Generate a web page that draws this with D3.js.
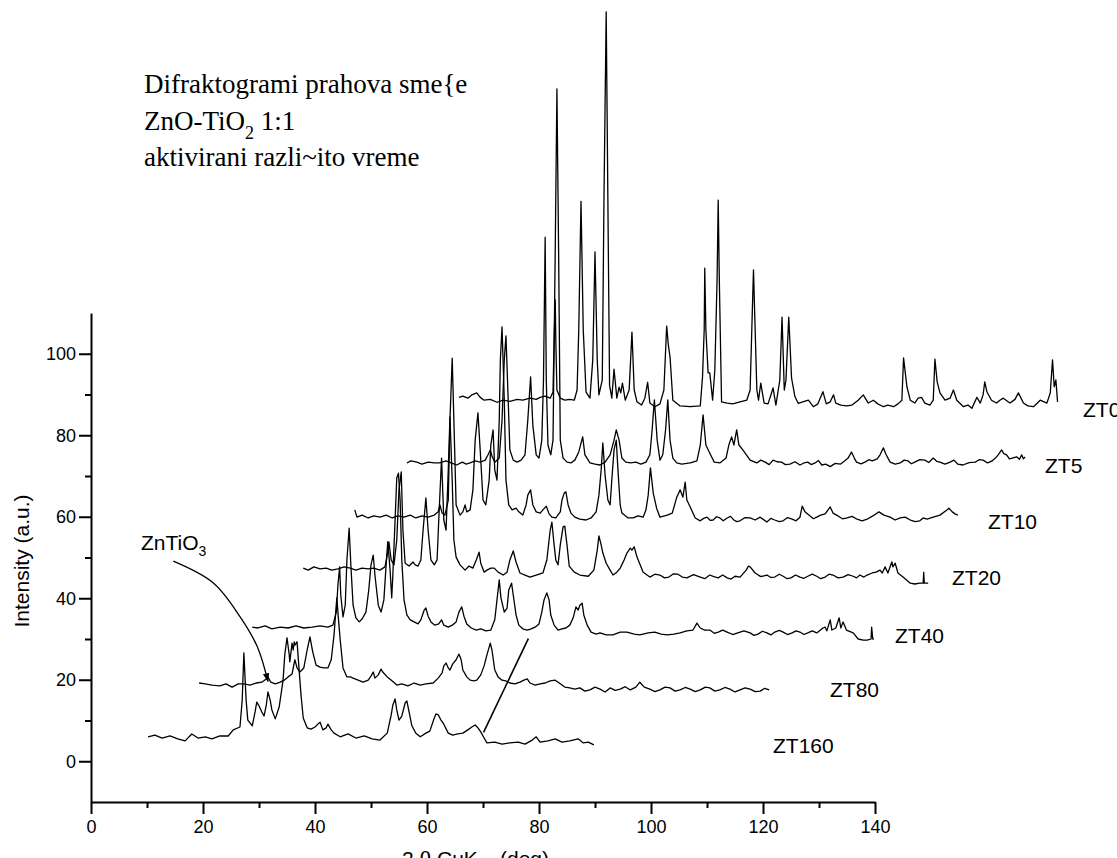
<!DOCTYPE html>
<html><head><meta charset="utf-8">
<script src="https://cdn.jsdelivr.net/npm/d3@7/dist/d3.min.js"></script>
<style>body{margin:0;background:#fff}svg{display:block}</style>
</head><body>
<svg id="chart" width="1117" height="858"></svg>
<script>
// ---------- data (plotted axis units) ----------
const seriesNames = ["ZT160","ZT80","ZT40","ZT20","ZT10","ZT5","ZT0"];

const zt160 = [[10.2,6.0],[11.4,6.4],[12.7,5.7],[14.1,6.2],[15.5,5.5],[16.8,5.0],[18.0,6.7],[19.1,5.7],[20.4,6.0],[21.6,5.5],[23.0,6.2],[24.5,6.2],[25.4,7.7],[26.6,8.4],[27.0,15.0],[27.3,26.6],[27.7,15.0],[28.0,10.1],[28.8,8.7],[29.3,12.1],[29.6,14.5],[30.0,13.6],[30.5,12.1],[30.9,11.1],[31.3,13.8],[31.6,17.0],[32.0,15.0],[32.3,12.6],[32.9,10.4],[33.6,13.3],[34.3,19.9],[34.6,26.1],[35.0,30.3],[35.4,26.1],[35.5,24.4],[35.9,29.0],[36.1,27.3],[36.3,29.3],[36.4,28.5],[36.8,29.3],[37.1,23.6],[37.5,16.3],[37.9,10.6],[38.6,8.2],[39.3,7.9],[40.0,8.4],[40.5,9.1],[40.9,9.6],[41.4,7.7],[42.0,8.2],[42.3,9.1],[42.9,7.7],[43.4,6.9],[44.5,6.0],[45.9,6.7],[47.3,5.7],[48.8,6.2],[50.2,5.5],[51.6,5.2],[52.9,6.9],[53.6,11.3],[53.9,13.8],[54.3,15.3],[54.6,12.6],[55.0,10.1],[55.5,11.1],[56.1,14.3],[56.4,14.8],[56.8,12.1],[57.3,8.7],[58.0,6.9],[58.8,6.0],[59.8,6.9],[60.5,7.4],[61.3,10.6],[61.6,11.6],[62.0,11.4],[62.5,10.1],[63.0,9.1],[63.8,6.9],[64.6,6.4],[65.5,6.7],[66.4,6.9],[67.3,7.7],[68.0,8.4],[68.6,8.9],[69.1,8.2],[69.6,7.2],[70.2,5.7],[70.7,4.5],[72.1,4.7],[73.4,4.2],[74.8,4.5],[76.3,4.7],[77.5,4.2],[78.8,5.2],[79.5,6.0],[80.2,4.7],[81.6,5.0],[82.9,5.5],[84.1,4.7],[85.5,5.0],[87.0,5.5],[87.9,4.5],[88.8,4.7],[89.8,4.0]];

const zt80 = [[19.3,19.2],[20.4,19.0],[21.6,18.7],[23.0,18.5],[24.1,19.0],[25.2,18.2],[26.3,19.0],[27.3,19.0],[28.4,18.7],[29.5,19.2],[30.5,19.4],[31.3,20.2],[31.6,20.7],[32.1,19.4],[32.9,19.0],[33.8,19.4],[34.5,19.9],[35.2,20.7],[35.9,21.4],[36.4,24.9],[36.8,22.9],[37.3,21.9],[38.0,22.9],[38.6,27.3],[39.1,30.5],[39.6,26.8],[40.2,23.6],[40.9,23.1],[41.6,22.9],[42.3,22.9],[42.9,24.9],[43.4,31.0],[43.8,38.4],[43.9,40.1],[44.2,34.7],[44.5,29.8],[45.0,22.9],[45.7,20.7],[46.3,20.7],[46.8,20.4],[47.7,19.9],[48.6,19.4],[49.5,19.9],[50.0,20.9],[50.4,21.9],[50.7,20.4],[51.3,21.2],[51.8,22.6],[52.1,21.9],[52.9,20.7],[53.8,19.7],[54.6,18.7],[55.5,19.0],[56.6,18.5],[57.7,19.2],[58.8,18.7],[59.8,19.0],[61.1,19.2],[62.0,20.4],[62.7,21.7],[63.0,23.4],[63.4,24.1],[63.8,22.9],[64.1,22.4],[64.6,23.9],[65.2,24.9],[65.7,26.3],[66.1,24.9],[66.4,22.4],[67.1,20.7],[67.7,19.9],[68.4,19.7],[68.9,19.9],[69.6,21.2],[70.2,23.4],[70.7,26.1],[71.3,29.0],[71.6,27.3],[72.1,22.4],[72.7,20.7],[73.4,19.9],[74.1,19.7],[74.8,19.2],[75.7,19.0],[76.6,19.4],[77.3,19.9],[77.9,20.2],[78.4,19.2],[79.3,18.7],[80.2,19.0],[81.1,19.2],[82.0,19.7],[82.9,19.9],[83.8,19.0],[84.6,18.2],[85.5,18.0],[86.4,17.7],[87.3,18.0],[88.2,17.2],[89.1,17.5],[90.0,18.2],[90.9,17.7],[91.8,17.0],[92.7,18.0],[93.6,17.4],[94.5,17.7],[95.4,18.3],[96.3,17.5],[97.3,18.2],[98.0,19.4],[98.8,18.2],[99.8,17.7],[100.7,17.1],[101.6,17.5],[102.5,18.2],[103.4,18.0],[104.3,17.2],[105.2,17.5],[106.1,18.1],[107.0,17.7],[107.9,17.1],[108.8,17.5],[109.7,18.2],[110.5,18.0],[111.4,17.2],[112.3,17.5],[113.2,18.1],[114.1,17.7],[115.0,17.0],[115.9,17.5],[116.8,18.0],[117.7,17.7],[118.6,17.1],[119.5,17.2],[120.3,17.9],[121.1,17.5]];

const zt40 = [[28.8,32.9],[29.8,32.7],[31.1,33.2],[32.3,32.5],[33.8,32.9],[35.2,32.7],[36.6,33.2],[38.0,32.7],[39.5,32.9],[40.9,33.2],[42.3,32.9],[43.2,33.4],[43.8,36.6],[44.1,43.3],[44.4,47.7],[44.6,40.8],[45.0,35.4],[45.4,38.3],[45.7,49.4],[46.1,57.2],[46.4,48.2],[46.8,38.3],[47.3,35.2],[47.9,34.2],[48.4,34.9],[49.1,36.6],[49.6,42.0],[50.0,48.2],[50.4,50.6],[50.7,45.7],[51.3,38.3],[51.8,36.6],[52.3,39.6],[52.7,48.2],[53.0,53.9],[53.4,47.1],[53.7,40.1],[53.9,45.7],[54.3,59.2],[54.6,69.5],[54.9,70.7],[55.2,64.1],[55.5,49.4],[55.9,39.6],[56.4,35.9],[57.0,34.7],[57.7,34.2],[58.4,33.7],[58.9,34.7],[59.5,37.1],[59.8,37.6],[60.2,35.6],[60.7,34.2],[61.4,33.4],[62.1,33.7],[62.6,34.7],[63.0,33.4],[63.8,32.9],[64.5,33.4],[65.2,34.2],[65.7,36.6],[66.2,37.9],[66.6,35.6],[67.1,33.7],[67.9,32.7],[68.8,32.2],[69.6,32.5],[70.5,32.0],[71.4,32.2],[72.1,34.7],[72.5,39.6],[72.9,44.5],[73.2,40.1],[73.8,36.6],[74.3,37.6],[74.6,42.0],[75.1,43.7],[75.4,40.8],[75.9,35.9],[76.4,33.4],[77.1,32.5],[77.9,32.2],[78.6,32.5],[79.3,32.9],[80.0,33.7],[80.5,36.6],[80.9,39.6],[81.4,41.3],[81.8,39.6],[82.1,35.9],[82.7,33.4],[83.4,32.2],[84.1,32.5],[84.8,32.7],[85.5,33.4],[86.1,35.2],[86.6,37.9],[87.0,37.1],[87.3,38.3],[87.7,38.8],[88.0,35.9],[88.6,33.4],[89.3,31.7],[90.2,31.2],[90.9,31.5],[92.0,31.0],[93.2,31.0],[94.5,31.7],[95.7,31.7],[97.0,31.2],[98.0,31.0],[99.5,31.5],[100.7,31.7],[101.8,31.2],[102.9,31.0],[104.1,31.2],[105.2,31.5],[106.4,32.0],[107.5,32.2],[108.2,33.9],[108.8,32.7],[109.6,32.2],[110.5,32.2],[111.3,31.4],[112.0,31.7],[112.8,32.2],[113.6,31.7],[114.6,31.1],[115.5,31.5],[116.6,32.0],[117.7,31.5],[118.4,30.9],[119.1,31.2],[119.9,31.9],[120.7,31.5],[121.4,31.0],[122.1,31.7],[122.9,32.1],[123.6,31.7],[124.4,31.1],[125.2,31.5],[125.9,32.0],[126.6,31.7],[127.3,31.1],[128.0,31.5],[128.8,32.0],[129.6,31.5],[130.7,32.7],[131.1,32.9],[131.4,32.0],[132.0,34.7],[132.3,32.2],[133.0,32.7],[133.6,35.2],[133.9,32.7],[134.3,34.2],[134.9,32.2],[136.1,31.5],[137.0,30.0],[137.9,29.7],[138.6,29.7],[139.3,30.0],[139.4,32.9],[139.6,30.0],[139.8,30.0]];

const zt20 = [[37.9,47.4],[38.8,46.9],[39.8,47.7],[40.9,47.2],[42.0,47.4],[43.0,46.9],[44.1,47.2],[45.2,47.7],[46.3,47.4],[47.3,46.9],[48.4,47.4],[49.5,47.2],[50.5,47.4],[51.6,46.9],[52.5,47.7],[52.9,50.6],[53.2,53.8],[53.6,49.4],[54.1,48.2],[54.6,54.3],[55.0,66.6],[55.4,71.0],[55.7,56.7],[56.1,48.6],[56.8,47.9],[57.5,48.9],[57.9,48.2],[58.4,47.9],[58.9,49.4],[59.3,56.7],[59.8,64.6],[60.2,56.7],[60.7,49.4],[61.3,48.2],[61.8,49.4],[62.1,59.2],[62.6,74.4],[63.0,59.2],[63.4,56.7],[63.8,71.5],[64.1,84.5],[64.5,69.0],[64.8,54.3],[65.2,50.1],[65.9,48.2],[66.8,46.9],[67.5,47.9],[68.2,47.4],[68.8,49.4],[69.3,51.3],[69.6,48.6],[70.2,46.4],[70.7,46.9],[71.4,47.4],[72.0,47.4],[72.7,46.4],[73.6,45.7],[74.3,46.4],[74.8,49.4],[75.4,51.6],[75.9,48.9],[76.6,46.2],[77.5,45.7],[78.4,45.2],[79.5,45.7],[80.7,46.2],[81.4,49.4],[82.0,56.7],[82.3,58.7],[82.7,53.1],[83.0,49.4],[83.4,48.2],[83.8,53.1],[84.3,57.5],[84.6,57.7],[85.0,53.1],[85.4,47.9],[86.3,46.4],[87.3,45.7],[88.8,45.4],[89.8,46.9],[90.4,51.8],[90.7,55.3],[91.1,53.1],[91.4,51.1],[92.0,48.6],[92.7,46.9],[93.2,45.7],[93.9,46.4],[94.5,47.4],[95.2,49.4],[95.7,51.1],[96.3,52.3],[96.6,51.8],[97.0,52.6],[97.5,50.1],[98.6,46.4],[99.8,45.2],[100.7,45.9],[101.6,45.7],[102.4,45.0],[103.2,45.2],[104.0,46.0],[104.8,45.9],[105.6,45.2],[106.4,45.0],[107.6,45.8],[108.8,45.2],[109.6,44.8],[110.5,45.7],[111.2,45.3],[112.0,45.0],[112.8,45.7],[113.6,45.0],[114.3,44.7],[115.0,45.4],[115.9,45.2],[117.0,46.9],[117.4,47.9],[117.7,47.7],[118.6,46.2],[119.6,45.3],[120.7,45.7],[121.4,45.1],[122.1,45.2],[122.9,45.9],[123.6,45.4],[124.3,44.8],[125.0,45.0],[125.8,45.7],[126.6,45.2],[127.3,44.9],[128.0,45.4],[128.8,45.9],[129.6,45.4],[130.3,44.8],[131.1,45.2],[131.8,45.9],[132.5,45.7],[133.4,45.0],[134.3,45.2],[135.2,45.8],[136.1,45.4],[136.7,45.0],[137.3,45.7],[138.0,45.2],[138.6,45.7],[139.5,46.2],[140.2,46.4],[140.9,46.9],[141.3,46.2],[141.8,47.7],[142.3,46.2],[143.0,48.9],[143.2,47.7],[143.6,48.6],[144.1,46.2],[145.0,45.2],[146.3,43.7],[147.1,43.5],[148.0,43.7],[148.6,43.7],[148.7,46.4],[148.8,43.7],[149.5,43.7]];

const zt10 = [[47.1,61.7],[47.5,59.9],[48.4,60.4],[49.5,59.7],[50.5,60.2],[51.6,59.9],[52.7,60.4],[53.8,59.7],[54.8,60.2],[55.9,59.9],[57.0,60.4],[58.0,59.7],[59.1,60.2],[60.2,59.9],[61.3,60.4],[62.0,61.2],[62.3,62.9],[62.7,60.9],[63.2,60.4],[63.8,64.1],[64.1,83.7],[64.5,98.9],[64.8,83.7],[65.2,62.9],[65.9,60.4],[66.4,61.2],[66.8,62.9],[67.1,61.2],[67.7,61.7],[68.2,66.6],[68.6,78.8],[69.1,85.5],[69.5,76.4],[70.0,64.1],[70.5,62.9],[71.1,69.0],[71.4,77.6],[71.8,81.3],[72.1,71.5],[72.5,69.0],[72.9,83.7],[73.1,98.5],[73.4,106.6],[73.8,88.6],[74.1,69.0],[74.6,62.9],[75.2,61.7],[75.9,62.1],[76.4,61.2],[77.1,60.4],[77.7,62.9],[78.0,65.3],[78.5,66.6],[78.9,62.9],[79.5,61.2],[80.2,60.9],[80.7,61.7],[81.3,62.6],[81.8,60.7],[82.3,59.9],[83.0,59.7],[83.8,61.2],[84.1,64.1],[84.5,65.8],[84.8,66.1],[85.2,62.9],[85.7,60.9],[86.4,59.9],[87.3,59.4],[88.4,59.2],[89.3,59.7],[90.2,61.2],[90.7,65.3],[91.1,71.5],[91.4,78.1],[91.8,70.2],[92.3,64.1],[92.7,62.9],[93.0,69.0],[93.4,76.4],[93.8,78.8],[94.1,71.5],[94.5,62.9],[94.8,60.9],[95.9,59.7],[96.8,59.7],[97.7,60.2],[98.6,59.9],[99.1,61.7],[99.5,65.3],[99.9,72.0],[100.4,65.8],[101.0,62.1],[101.6,59.9],[102.9,60.4],[103.8,60.9],[104.6,64.8],[105.2,66.6],[105.7,64.8],[106.1,68.5],[106.4,64.1],[107.0,62.4],[107.9,59.7],[108.8,59.0],[109.4,59.6],[110.0,59.9],[110.6,59.1],[111.1,59.2],[111.7,60.0],[112.3,59.7],[112.9,59.0],[113.6,59.7],[114.2,60.1],[114.8,59.2],[115.3,58.8],[115.9,59.0],[116.8,59.8],[117.7,59.7],[118.6,59.2],[119.5,59.9],[120.1,59.3],[120.7,58.7],[121.4,59.6],[122.1,59.2],[122.9,58.8],[123.6,59.0],[124.4,59.8],[125.2,59.4],[125.9,59.0],[126.6,59.9],[127.0,62.6],[127.5,61.2],[128.4,60.2],[129.0,59.5],[129.6,59.9],[130.3,60.4],[131.1,60.7],[132.0,62.4],[132.5,60.9],[133.4,60.2],[134.2,59.5],[135.0,59.7],[135.9,60.1],[136.8,59.4],[137.7,59.0],[138.6,59.4],[139.6,60.2],[140.7,61.2],[141.6,60.4],[142.7,59.9],[143.6,59.2],[144.5,59.7],[145.4,59.9],[146.3,59.2],[147.2,58.8],[148.0,59.0],[148.6,59.7],[149.3,59.4],[150.4,59.9],[151.6,60.4],[152.9,61.7],[153.2,62.1],[153.8,61.2],[154.3,60.7],[154.8,60.4]];

const zt5 = [[56.4,73.2],[57.1,73.7],[58.2,73.4],[59.1,72.9],[60.2,73.4],[61.3,73.2],[62.3,73.2],[63.4,73.7],[64.3,73.2],[65.3,72.7],[66.3,73.4],[67.0,72.9],[67.7,73.2],[68.6,73.7],[69.5,73.4],[70.4,73.9],[70.9,75.2],[71.3,76.4],[71.6,74.9],[72.1,73.4],[72.9,74.4],[73.4,83.7],[73.8,98.5],[74.1,104.4],[74.5,88.6],[74.8,76.4],[75.4,73.9],[76.1,73.4],[76.8,73.9],[77.5,75.2],[78.0,83.7],[78.5,94.3],[78.9,82.5],[79.5,75.2],[80.0,74.4],[80.5,78.8],[80.8,93.6],[81.1,128.6],[81.3,93.6],[81.6,77.6],[82.1,75.2],[82.5,78.8],[82.9,125.4],[83.2,165.0],[83.5,125.4],[83.8,78.8],[84.3,74.4],[85.0,73.4],[85.7,73.2],[86.4,73.9],[87.1,75.9],[87.8,79.6],[88.2,75.2],[89.1,73.2],[90.0,72.9],[90.9,72.7],[91.8,73.4],[92.7,75.2],[93.4,78.8],[93.8,81.3],[94.3,78.8],[94.8,74.4],[95.5,73.4],[96.4,73.2],[97.3,73.4],[98.2,72.9],[99.1,73.4],[99.8,75.2],[100.2,81.3],[100.6,88.7],[101.1,78.8],[101.6,73.9],[102.1,75.2],[102.6,81.3],[103.0,88.7],[103.4,78.8],[103.9,74.4],[104.6,73.2],[105.5,72.9],[107.0,73.2],[108.2,73.7],[108.8,77.6],[109.3,85.0],[109.8,77.6],[110.5,75.6],[111.3,73.4],[112.3,73.2],[113.4,74.4],[113.9,77.6],[114.4,79.6],[114.8,77.6],[115.3,81.3],[115.7,77.6],[116.4,76.4],[117.7,73.9],[118.9,73.2],[119.6,73.9],[120.4,73.4],[121.1,72.8],[121.8,73.9],[122.5,73.5],[123.3,73.4],[124.0,72.8],[124.8,72.9],[125.7,73.5],[126.6,72.7],[127.3,73.2],[128.0,73.4],[128.6,72.8],[129.3,73.2],[129.9,73.8],[130.5,72.7],[131.2,72.9],[132.0,72.3],[132.9,73.1],[133.8,72.9],[134.5,73.6],[135.2,74.4],[135.8,75.9],[136.3,74.4],[136.7,73.4],[137.5,73.0],[138.2,73.4],[138.9,74.0],[139.5,73.7],[140.4,74.2],[140.9,75.2],[141.5,76.9],[142.0,75.2],[142.7,73.4],[143.6,72.9],[144.5,73.2],[145.2,73.9],[145.9,73.7],[146.5,73.0],[147.1,73.4],[148.0,74.0],[148.9,73.9],[149.6,73.3],[150.4,74.4],[151.0,73.6],[151.6,73.4],[152.5,72.9],[153.4,73.4],[154.1,73.9],[154.8,72.9],[155.7,72.7],[156.8,73.3],[157.9,73.4],[158.6,74.0],[159.3,73.9],[160.1,73.2],[160.9,73.7],[161.5,74.4],[162.0,75.2],[162.6,76.4],[163.0,75.5],[163.5,75.2],[164.0,74.2],[164.5,74.4],[165.3,74.7],[165.8,74.1],[166.2,75.2],[166.5,74.2],[166.8,74.7]];

const zt0 = [[65.7,89.3],[66.4,89.6],[67.3,89.1],[68.0,89.9],[68.9,90.4],[69.5,89.3],[70.2,88.6],[71.3,88.8],[72.5,88.1],[73.6,88.6],[74.8,88.3],[76.1,88.8],[77.1,88.6],[78.4,89.1],[79.5,88.8],[80.2,89.3],[81.1,89.6],[82.0,89.1],[82.5,90.6],[82.7,103.4],[82.9,113.2],[83.0,103.4],[83.2,91.1],[83.8,89.1],[84.6,88.6],[85.5,88.8],[86.3,88.6],[86.8,91.1],[87.1,105.9],[87.5,137.4],[87.9,105.9],[88.4,90.6],[89.1,89.1],[89.6,98.5],[90.0,125.0],[90.4,98.5],[90.7,89.9],[91.3,93.6],[91.6,137.7],[92.0,183.9],[92.3,137.7],[92.6,92.3],[93.0,89.1],[93.4,96.2],[93.9,89.1],[94.3,91.8],[94.6,90.4],[94.9,92.8],[95.4,88.6],[96.1,91.1],[96.6,105.3],[97.0,91.1],[97.5,88.2],[98.3,87.4],[98.9,89.1],[99.4,93.0],[99.8,87.9],[100.7,87.0],[101.6,87.7],[102.3,91.1],[102.8,106.8],[103.1,102.1],[103.4,99.2],[103.9,88.6],[105.2,87.2],[107.0,87.0],[108.8,87.2],[109.2,94.3],[109.5,105.9],[109.6,121.0],[109.8,105.9],[110.2,95.3],[110.5,95.3],[111.0,88.6],[111.4,96.0],[111.8,118.1],[112.0,137.7],[112.2,118.1],[112.6,88.2],[113.6,87.9],[114.6,87.7],[115.9,88.2],[117.1,88.6],[117.7,91.1],[118.0,105.9],[118.3,120.6],[118.6,105.9],[118.9,91.1],[119.2,88.6],[119.6,92.8],[120.2,87.9],[120.9,87.7],[121.8,91.6],[122.3,87.4],[123.0,93.5],[123.4,109.0],[123.8,91.1],[124.1,93.5],[124.6,109.0],[125.1,94.0],[125.7,89.5],[126.3,87.8],[127.1,88.2],[128.1,88.6],[129.0,87.0],[129.8,87.7],[130.7,90.7],[131.3,87.7],[132.0,88.2],[132.6,89.9],[133.0,87.9],[133.9,87.4],[134.9,87.2],[135.9,87.4],[137.0,88.6],[137.9,89.9],[138.8,87.9],[139.7,88.6],[140.5,87.7],[141.5,87.0],[142.3,87.4],[143.3,87.0],[144.1,87.7],[144.8,88.6],[145.1,99.0],[145.7,91.9],[146.3,88.6],[147.1,87.9],[147.7,89.1],[148.3,89.3],[148.9,87.9],[149.8,87.4],[150.4,88.6],[150.7,98.7],[151.1,93.1],[151.6,90.4],[152.5,88.6],[153.4,89.1],[154.0,91.1],[154.6,88.6],[155.8,87.0],[156.6,87.4],[157.3,86.6],[158.2,89.3],[158.8,87.9],[159.3,89.9],[159.6,93.1],[160.0,90.6],[160.8,88.6],[161.7,87.9],[162.3,88.6],[162.9,89.1],[164.1,87.9],[165.0,88.8],[165.6,90.4],[166.5,87.9],[167.3,87.2],[168.3,87.0],[169.5,88.6],[170.7,87.9],[171.3,90.4],[171.7,98.5],[172.0,91.9],[172.3,93.6],[172.6,88.2]];

const xMajorTicks = [0,20,40,60,80,100,120,140];
const xMinorTicks = [10,30,50,70,90,110,130];
const yMajorTicks = [0,20,40,60,80,100];
const yMinorTicks = [10,30,50,70,90];

// annotation paths (axis units)
const arrowCurve = [[14.7,49.1],[21.8,43.8],[26.6,35.5],[29.7,28.1],[31.6,19.6]];
const pointerLine = [[70.1,7.1],[78.1,30.1]];

// ---------- layout ----------
const seriesData = [zt160, zt80, zt40, zt20, zt10, zt5, zt0];
const labelPos = [[773,753],[830,697],[895,643],[952,585],[988,529],[1045,473],[1083,417]];

const svg = d3.select("#chart");
const x = d3.scaleLinear().domain([0,140]).range([91,875]);
const y = d3.scaleLinear().domain([-10,110]).range([802,313]);

const sans = "'Liberation Sans', Arial, sans-serif";
const serif = "'Liberation Serif', 'Times New Roman', serif";

// axes
svg.append("g").attr("transform","translate(0,802)")
  .call(d3.axisBottom(x).tickValues(xMajorTicks).tickSize(12).tickSizeOuter(0).tickPadding(6).tickFormat(d3.format("d")));
svg.append("g").attr("transform","translate(0,802)")
  .call(d3.axisBottom(x).tickValues(xMinorTicks).tickSize(6).tickSizeOuter(0).tickFormat(""))
  .select(".domain").remove();
svg.append("g").attr("transform","translate(91,0)")
  .call(d3.axisLeft(y).tickValues(yMajorTicks).tickSize(12).tickSizeOuter(0).tickPadding(3).tickFormat(d3.format("d")));
svg.append("g").attr("transform","translate(91,0)")
  .call(d3.axisLeft(y).tickValues(yMinorTicks).tickSize(6).tickSizeOuter(0).tickFormat(""))
  .select(".domain").remove();
svg.selectAll(".domain").attr("stroke","#000").attr("stroke-width",2);
svg.selectAll(".tick line").attr("stroke","#000").attr("stroke-width",2);
svg.selectAll(".tick text").attr("font-family",sans).attr("font-size",18).attr("fill","#000");

// traces
const line = d3.line().x(d=>x(d[0])).y(d=>y(d[1]));
svg.append("g").selectAll("path").data(seriesData).join("path")
  .attr("d",line).attr("fill","none").attr("stroke","#000")
  .attr("stroke-width",1.3).attr("stroke-linejoin","round");

// series labels
svg.append("g").selectAll("text").data(seriesNames).join("text")
  .attr("x",(d,i)=>labelPos[i][0]).attr("y",(d,i)=>labelPos[i][1])
  .attr("font-family",sans).attr("font-size",21).text(d=>d);

// annotations
svg.append("defs").append("marker").attr("id","arr")
  .attr("viewBox","0 0 10 10").attr("refX",9).attr("refY",5)
  .attr("markerWidth",9).attr("markerHeight",9).attr("markerUnits","userSpaceOnUse")
  .attr("orient","auto")
  .append("path").attr("d","M0,1.5 L10,5 L0,8.5 Z").attr("fill","#000");
svg.append("path").datum(arrowCurve)
  .attr("d",d3.line().x(d=>x(d[0])).y(d=>y(d[1])).curve(d3.curveCatmullRom))
  .attr("fill","none").attr("stroke","#000").attr("stroke-width",1.3)
  .attr("marker-end","url(#arr)");
svg.append("path").datum(pointerLine).attr("d",line)
  .attr("fill","none").attr("stroke","#000").attr("stroke-width",1.6);

const zt = svg.append("text").attr("x",141).attr("y",550).attr("font-family",sans).attr("font-size",21);
zt.append("tspan").text("ZnTiO");
zt.append("tspan").attr("font-size",14).attr("dy",6).text("3");

// title block
const titleX = 144;
svg.append("text").attr("x",titleX).attr("y",93).attr("font-family",serif).attr("font-size",27).text("Difraktogrami prahova sme{e");
const t2 = svg.append("text").attr("x",titleX).attr("y",130).attr("font-family",serif).attr("font-size",27);
t2.append("tspan").text("ZnO-TiO");
t2.append("tspan").attr("font-size",18).attr("dy",9).text("2");
t2.append("tspan").attr("dy",-9).text(" 1:1");
svg.append("text").attr("x",titleX).attr("y",166).attr("font-family",serif).attr("font-size",27).text("aktivirani razli~ito vreme");

// axis titles
svg.append("text").attr("transform","translate(29,561) rotate(-90)").attr("text-anchor","middle")
  .attr("font-family",sans).attr("font-size",21).text("Intensity (a.u.)");
const xt = svg.append("text").attr("x",402).attr("y",866).attr("font-family",sans).attr("font-size",21);
xt.append("tspan").text("2 θ CuK");
xt.append("tspan").attr("font-size",14).attr("dy",6).text("α");
xt.append("tspan").attr("dy",-6).attr("dx",14).text("(deg)");
</script>
</body></html>
